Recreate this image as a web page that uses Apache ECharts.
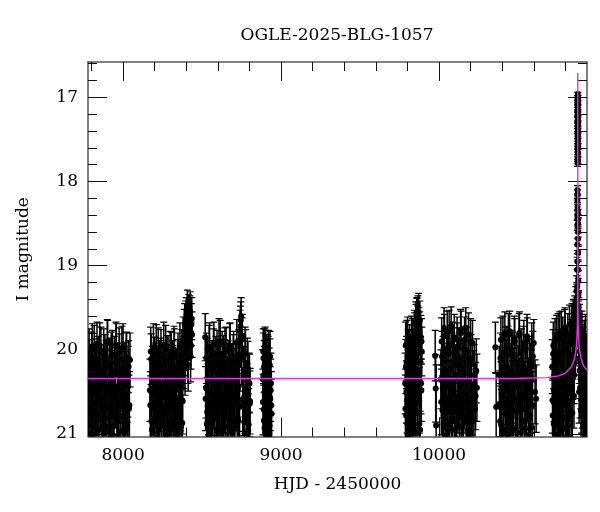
<!DOCTYPE html>
<html>
<head>
<meta charset="utf-8">
<script src="https://cdn.jsdelivr.net/npm/echarts@6.0.0/dist/echarts.min.js"></script>
<style>
html,body{margin:0;padding:0;background:#fff;}
#chart{width:600px;height:512px;}
</style>
</head>
<body>
<div id="chart"></div>
<script>
// ---- axis ranges and ticks ----
const xRange = [7778, 10937];
const yRange = [16.58, 21.03];
const xMajorTicks = [8000, 9000, 10000];
const xMinorTicks = [7800, 8200, 8400, 8600, 8800, 9200, 9400, 9600, 9800, 10200, 10400, 10600, 10800];
const yMajorTicks = [17, 18, 19, 20, 21];
const yMinorTicks = [16.6, 16.8, 17.2, 17.4, 17.6, 17.8, 18.2, 18.4, 18.6, 18.8, 19.2, 19.4, 19.6, 19.8, 20.2, 20.4, 20.6, 20.8];

// ---- photometry: [HJD-2450000, I mag, error] ----
const season2017 = [
[7780,20.42,.36],[7785,20.05,.30],[7790,20.88,.42],[7795,20.31,.34],[7800,20.66,.40],[7805,19.96,.27],
[7810,20.52,.38],[7815,21.06,.45],[7820,20.18,.31],[7825,20.75,.41],[7830,20.36,.35],[7835,19.93,.26],
[7840,20.61,.39],[7845,20.95,.43],[7850,20.27,.33],[7855,20.48,.37],[7860,20.01,.28],[7865,20.83,.42],
[7870,20.39,.35],[7875,21.14,.46],[7880,20.57,.38],[7885,20.12,.30],[7890,20.70,.40],[7895,20.33,.34],
[7900,19.90,.26],[7905,20.46,.36],[7910,20.91,.43],[7915,20.22,.32],[7920,20.64,.39],[7925,20.08,.29],
[7930,20.79,.41],[7935,20.41,.36],[7940,21.02,.45],[7945,20.15,.31],[7950,20.55,.38],[7955,19.94,.27],
[7960,20.86,.42],[7965,20.29,.33],[7970,20.68,.40],[7975,20.03,.29],[7980,20.50,.37],[7985,20.97,.44],
[7990,20.24,.32],[7995,20.60,.39],[8000,19.97,.28],[8005,20.81,.42],[8010,20.37,.35],[8015,20.72,.40],
[8020,20.10,.30],[8025,20.93,.43],[8030,20.44,.36],[8035,20.20,.31],[8040,20.66,.40],[8044,20.12,.32],
[7782.5,20.71,.40],[7787.5,20.19,.31],[7792.5,20.54,.38],[7797.5,21.00,.44],[7802.5,20.08,.29],[7807.5,20.85,.42],
[7812.5,20.40,.36],[7817.5,19.99,.28],[7822.5,20.63,.39],[7827.5,20.26,.33],[7832.5,20.93,.43],[7837.5,20.47,.37],
[7842.5,20.14,.30],[7847.5,20.77,.41],[7852.5,19.95,.27],[7857.5,20.58,.38],[7862.5,21.09,.46],[7867.5,20.32,.34],
[7872.5,20.69,.40],[7877.5,20.04,.29],[7882.5,20.89,.42],[7887.5,20.43,.36],[7892.5,20.21,.32],[7897.5,20.81,.41],
[7902.5,19.92,.27],[7907.5,20.53,.38],[7912.5,20.98,.44],[7917.5,20.17,.31],[7922.5,20.74,.40],[7927.5,20.36,.35],
[7932.5,20.06,.29],[7937.5,20.62,.39],[7942.5,20.90,.43],[7947.5,20.28,.33],[7952.5,20.51,.37],[7957.5,19.97,.28],
[7962.5,20.84,.42],[7967.5,20.45,.36],[7972.5,21.04,.45],[7977.5,20.11,.30],[7982.5,20.67,.40],[7987.5,20.34,.34],
[7992.5,20.00,.28],[7997.5,20.79,.41],[8002.5,20.49,.37],[8007.5,20.96,.44],[8012.5,20.23,.32],[8017.5,20.57,.38],
[8022.5,20.09,.30],[8027.5,20.86,.42],[8032.5,20.30,.34],[8037.5,20.70,.40]
];
const season2018 = [
[8170,20.48,.37],[8175,20.02,.29],[8180,20.85,.42],[8185,20.30,.34],[8190,20.63,.39],[8195,21.08,.45],
[8200,20.16,.31],[8205,20.54,.38],[8210,19.98,.28],[8215,20.77,.41],[8220,20.38,.35],[8225,20.92,.43],
[8230,20.21,.32],[8235,20.59,.38],[8240,20.05,.29],[8245,20.81,.42],[8250,20.43,.36],[8255,21.10,.46],
[8260,20.26,.33],[8265,20.67,.40],[8270,19.99,.28],[8275,20.50,.37],[8280,20.88,.42],[8285,20.14,.31],
[8290,20.71,.40],[8295,20.35,.35],[8300,20.96,.44],[8305,20.09,.30],[8310,20.56,.38],[8315,20.28,.33],
[8320,20.84,.42],[8325,20.04,.29],[8330,20.62,.39],[8335,20.41,.36],[8340,21.03,.45],[8345,20.19,.31],
[8350,20.74,.41],[8355,20.33,.34],[8360,19.96,.28],[8365,20.58,.38],[8370,20.25,.33],[8375,20.87,.42],
[8380,19.88,.27],[8385,20.15,.31],[8390,19.70,.25],[8395,20.02,.29],[8400,19.62,.24],[8405,19.85,.27],
[8410,20.10,.30],[8415,19.58,.24],[8420,19.78,.26],[8425,19.55,.24],[8430,19.95,.28],[8435,19.63,.25],
[8437,19.82,.27],
[8172.5,20.66,.40],[8177.5,20.11,.30],[8182.5,20.95,.44],[8187.5,20.37,.35],[8192.5,19.97,.28],[8197.5,20.52,.37],
[8202.5,20.82,.42],[8207.5,20.24,.32],[8212.5,20.60,.39],[8217.5,21.05,.45],[8222.5,20.03,.29],[8227.5,20.45,.36],
[8232.5,20.78,.41],[8237.5,20.17,.31],[8242.5,20.89,.43],[8247.5,20.31,.34],[8252.5,20.55,.38],[8257.5,19.94,.27],
[8262.5,20.72,.40],[8267.5,20.42,.36],[8272.5,21.01,.45],[8277.5,20.13,.30],[8282.5,20.64,.39],[8287.5,20.27,.33],
[8292.5,20.86,.42],[8297.5,20.07,.29],[8302.5,20.49,.37],[8307.5,20.93,.43],[8312.5,20.20,.31],[8317.5,20.69,.40],
[8322.5,20.00,.28],[8327.5,20.57,.38],[8332.5,20.80,.41],[8337.5,20.34,.35],[8342.5,20.98,.44],[8347.5,20.10,.30],
[8352.5,20.46,.36],[8357.5,20.75,.41],[8362.5,20.22,.32],[8367.5,20.91,.43],[8372.5,20.05,.29],[8377.5,20.61,.39],
[8382.5,20.05,.29],[8387.5,19.78,.26],[8392.5,20.22,.32],[8397.5,19.66,.24],[8402.5,19.92,.27],[8407.5,19.52,.23],
[8412.5,20.18,.31],[8417.5,19.74,.25],[8422.5,19.60,.24],[8427.5,20.08,.30],[8432.5,19.70,.25]
];
const season2019 = [
[8520,19.85,.28],[8525,20.45,.36],[8530,20.88,.43],[8535,20.17,.31],[8540,20.62,.39],[8545,20.00,.29],
[8550,20.76,.41],[8555,20.34,.35],[8560,21.07,.45],[8565,20.23,.32],[8570,20.55,.38],[8575,19.94,.27],
[8580,20.82,.42],[8585,20.40,.36],[8590,20.68,.40],[8595,20.06,.29],[8600,20.97,.44],[8605,20.29,.33],
[8610,20.51,.37],[8615,19.92,.27],[8620,20.73,.41],[8625,20.37,.35],[8630,20.90,.43],[8635,20.13,.30],
[8640,20.60,.39],[8645,20.03,.29],[8650,20.79,.41],[8655,20.44,.36],[8660,21.12,.46],[8665,20.20,.31],
[8670,20.65,.40],[8675,19.97,.28],[8680,20.53,.38],[8685,20.86,.42],[8690,20.26,.33],[8695,20.70,.40],
[8700,20.08,.30],[8705,20.94,.43],[8710,20.32,.34],[8715,20.58,.38],[8720,19.91,.27],[8725,20.47,.37],
[8730,20.84,.42],[8735,20.18,.31],[8740,19.78,.25],[8745,19.65,.22],[8750,20.11,.30],[8755,19.84,.26],
[8760,20.63,.39],[8765,20.30,.34],[8770,20.99,.44],[8775,20.05,.29],[8780,20.52,.37],[8785,20.78,.41],
[8790,20.22,.32],[8795,20.89,.43],[8800,20.40,.35],[8804,20.61,.39],
[8522.5,20.58,.38],[8527.5,20.10,.30],[8532.5,20.74,.41],[8537.5,20.33,.34],[8542.5,21.02,.45],[8547.5,19.96,.28],
[8552.5,20.49,.37],[8557.5,20.87,.42],[8562.5,20.21,.32],[8567.5,20.63,.39],[8572.5,20.04,.29],[8577.5,20.80,.41],
[8582.5,20.42,.36],[8587.5,20.15,.31],[8592.5,20.95,.44],[8597.5,20.28,.33],[8602.5,20.56,.38],[8607.5,19.90,.27],
[8612.5,20.70,.40],[8617.5,20.38,.35],[8622.5,21.08,.46],[8627.5,20.07,.29],[8632.5,20.52,.37],[8637.5,20.84,.42],
[8642.5,20.19,.31],[8647.5,20.66,.40],[8652.5,20.01,.28],[8657.5,20.46,.36],[8662.5,20.91,.43],[8667.5,20.25,.32],
[8672.5,20.61,.39],[8677.5,19.95,.27],[8682.5,20.77,.41],[8687.5,20.35,.35],[8692.5,20.99,.44],[8697.5,20.12,.30],
[8702.5,20.54,.38],[8707.5,20.83,.42],[8712.5,20.26,.33],[8717.5,20.48,.37],[8722.5,20.88,.42],[8727.5,20.44,.36],
[8732.5,20.05,.29],[8737.5,20.68,.40],[8742.5,19.72,.24],[8747.5,19.60,.22],[8752.5,19.88,.26],[8757.5,20.59,.38],
[8762.5,20.31,.34],[8767.5,20.86,.42],[8772.5,20.02,.29],[8777.5,20.50,.37],[8782.5,20.73,.40],[8787.5,20.17,.31],
[8792.5,20.96,.44],[8797.5,20.39,.35],[8802.5,20.64,.39]
];
const season2020 = [
[8884,20.35,.35],[8887,20.02,.27],[8890,20.71,.40],[8893,20.20,.31],[8896,20.93,.43],[8899,19.97,.24],
[8902,20.50,.37],[8905,21.08,.45],[8908,20.12,.30],[8911,20.64,.39],[8914,20.28,.33],[8917,20.86,.42],
[8920,20.05,.28],[8923,20.45,.36],[8926,21.00,.44],[8929,20.18,.31],[8932,20.58,.38],[8936,20.40,.36],
[8940,20.76,.41],
[8885.5,20.62,.39],[8888.5,20.10,.30],[8891.5,20.84,.42],[8894.5,20.30,.34],[8897.5,20.02,.27],[8900.5,20.55,.38],
[8903.5,20.97,.44],[8906.5,20.22,.32],[8909.5,20.70,.40],[8912.5,20.40,.36],[8915.5,21.04,.45],[8918.5,20.15,.31],
[8921.5,20.78,.41],[8924.5,20.33,.35],[8927.5,20.90,.43],[8930.5,20.08,.30],[8934.5,20.48,.37],[8938.5,20.66,.40]
];
const season2022 = [
[9786,20.40,.36],[9789,19.95,.28],[9792,20.78,.41],[9795,20.15,.31],[9798,20.60,.39],[9801,19.88,.27],
[9804,21.05,.45],[9807,20.30,.34],[9810,20.52,.37],[9813,19.98,.28],[9816,20.85,.42],[9819,20.22,.32],
[9822,20.66,.40],[9825,20.06,.29],[9828,20.45,.36],[9831,20.95,.44],[9834,19.90,.27],[9837,20.35,.35],
[9840,20.72,.41],[9843,20.10,.30],[9846,19.82,.26],[9849,20.55,.38],[9852,20.98,.44],[9855,19.70,.24],
[9858,20.25,.33],[9861,19.62,.23],[9864,20.62,.39],[9867,19.58,.22],[9870,20.14,.30],[9873,19.75,.25],
[9876,20.88,.42],[9879,19.65,.23],[9882,20.38,.35],[9885,19.85,.26],[9888,20.48,.37],[9891,20.02,.29],
[9787.5,20.70,.40],[9790.5,20.20,.32],[9793.5,20.50,.37],[9796.5,19.92,.27],[9799.5,20.88,.42],[9802.5,20.35,.35],
[9805.5,20.05,.29],[9808.5,20.64,.39],[9811.5,21.00,.44],[9814.5,20.25,.33],[9817.5,20.80,.41],[9820.5,20.12,.30],
[9823.5,20.45,.36],[9826.5,19.86,.26],[9829.5,20.58,.38],[9832.5,20.92,.43],[9835.5,20.18,.31],[9838.5,20.68,.40],
[9841.5,20.30,.34],[9844.5,19.78,.25],[9847.5,20.52,.37],[9850.5,20.08,.30],[9853.5,19.66,.23],[9856.5,20.42,.36],
[9859.5,19.60,.22],[9862.5,20.75,.41],[9865.5,19.72,.24],[9868.5,20.28,.33],[9871.5,19.55,.22],[9874.5,20.60,.39],
[9877.5,19.80,.25],[9880.5,20.95,.44],[9883.5,20.15,.31],[9886.5,20.40,.36],[9889.5,19.90,.27]
];
const season2023 = [
[9976,20.07,.30],[9979,20.46,.40],[9982,20.90,.72],
[10012,20.35,.35],[10017,19.90,.28],[10022,20.72,.41],[10027,20.15,.31],[10032,19.74,.24],[10037,20.58,.38],
[10042,21.02,.45],[10047,20.25,.33],[10052,19.80,.26],[10057,20.64,.39],[10062,20.05,.29],[10067,20.88,.42],
[10072,20.40,.36],[10077,19.72,.23],[10082,20.50,.37],[10087,20.95,.44],[10092,20.18,.31],[10097,19.85,.27],
[10102,20.68,.40],[10107,20.30,.34],[10112,21.08,.46],[10117,19.96,.28],[10122,20.55,.38],[10127,20.10,.30],
[10132,20.80,.41],[10137,19.76,.24],[10142,20.44,.36],[10147,20.92,.43],[10152,20.22,.32],[10157,20.60,.39],
[10162,19.88,.27],[10167,20.36,.35],[10172,20.84,.42],[10177,20.02,.29],[10182,20.70,.40],[10187,19.82,.26],
[10192,20.48,.37],[10197,21.00,.45],[10202,20.12,.30],[10207,20.62,.39],[10212,19.92,.27],[10220,20.41,.40],
[10228,20.70,.42],[10236,20.25,.38],
[10014.5,20.62,.39],[10019.5,20.08,.30],[10024.5,20.45,.36],[10029.5,20.88,.42],[10034.5,19.84,.26],[10039.5,20.30,.34],
[10044.5,20.70,.40],[10049.5,20.14,.31],[10054.5,20.98,.44],[10059.5,20.40,.36],[10064.5,19.78,.25],[10069.5,20.56,.38],
[10074.5,20.22,.32],[10079.5,20.82,.41],[10084.5,19.95,.28],[10089.5,20.50,.37],[10094.5,20.03,.29],[10099.5,20.74,.40],
[10104.5,20.34,.35],[10109.5,21.05,.45],[10114.5,19.88,.27],[10119.5,20.60,.39],[10124.5,20.18,.31],[10129.5,20.92,.43],
[10134.5,20.42,.36],[10139.5,19.80,.26],[10144.5,20.66,.40],[10149.5,20.26,.33],[10154.5,20.86,.42],[10159.5,20.00,.28],
[10164.5,20.52,.37],[10169.5,19.74,.24],[10174.5,20.78,.41],[10179.5,20.38,.35],[10184.5,20.96,.44],[10189.5,20.10,.30],
[10194.5,20.58,.38],[10199.5,19.90,.27],[10204.5,20.46,.36],[10209.5,20.84,.42],
[10216,20.85,.42],[10224,20.30,.36],[10232,20.55,.40],[10240,20.45,.40]
];
const season2024 = [
[10357,19.97,.30],[10362,20.68,.40],
[10382,20.30,.34],[10387,20.85,.42],[10392,19.88,.26],[10397,20.52,.37],[10402,20.12,.30],[10407,20.95,.44],
[10412,20.40,.36],[10417,19.80,.25],[10422,20.66,.40],[10427,20.20,.32],[10432,21.05,.45],[10437,20.00,.28],
[10442,20.58,.38],[10447,19.78,.24],[10452,20.80,.41],[10457,20.34,.35],[10462,20.92,.43],[10467,20.08,.29],
[10472,20.62,.39],[10477,19.86,.26],[10482,20.45,.36],[10487,21.10,.46],[10492,20.16,.31],[10497,20.74,.40],
[10502,20.28,.33],[10507,19.82,.25],[10512,20.55,.38],[10517,20.98,.44],[10522,20.04,.29],[10527,20.70,.40],
[10532,20.38,.35],[10537,19.92,.27],[10542,20.86,.42],[10547,20.24,.32],[10552,20.60,.39],[10557,19.84,.26],
[10562,20.47,.37],[10567,21.02,.45],[10572,20.14,.30],[10577,20.78,.41],[10582,20.32,.34],[10587,19.95,.27],
[10592,20.66,.40],[10600,19.92,.28],[10608,20.50,.38],[10615,20.58,.40],
[10384.5,20.64,.39],[10389.5,20.10,.30],[10394.5,20.90,.43],[10399.5,20.36,.35],[10404.5,19.86,.26],[10409.5,20.55,.38],
[10414.5,20.20,.32],[10419.5,20.76,.41],[10424.5,20.02,.29],[10429.5,21.00,.45],[10434.5,20.44,.36],[10439.5,19.82,.25],
[10444.5,20.68,.40],[10449.5,20.26,.33],[10454.5,20.88,.42],[10459.5,20.06,.29],[10464.5,20.50,.37],[10469.5,20.96,.44],
[10474.5,20.32,.34],[10479.5,19.90,.27],[10484.5,20.72,.40],[10489.5,20.16,.31],[10494.5,20.58,.38],[10499.5,21.06,.45],
[10504.5,20.40,.36],[10509.5,19.80,.25],[10514.5,20.62,.39],[10519.5,20.12,.30],[10524.5,20.84,.42],[10529.5,20.28,.33],
[10534.5,20.00,.28],[10539.5,20.53,.38],[10544.5,20.94,.43],[10549.5,20.22,.32],[10554.5,20.70,.40],[10559.5,19.88,.26],
[10564.5,20.46,.36],[10569.5,20.82,.42],[10574.5,20.18,.31],[10579.5,20.60,.39],[10584.5,20.35,.35],[10589.5,20.92,.43],
[10594.5,20.08,.30]
];
const season2025 = [
[10717,20.20,.32],[10720,20.78,.42],[10724,19.95,.28],[10728,20.48,.37],[10732,21.00,.45],[10736,20.10,.30],
[10740,20.62,.40],[10744,19.85,.26],[10748,20.35,.35],[10752,20.90,.43],[10756,20.05,.29],[10760,20.70,.40],
[10764,19.80,.25],[10768,20.42,.36],[10772,20.96,.44],[10776,20.15,.31],[10780,20.56,.38],[10784,19.88,.27],
[10788,20.82,.42],[10792,20.28,.33],[10796,19.76,.24],[10800,20.64,.39],[10804,20.00,.28],[10808,20.92,.43],
[10812,20.38,.35],[10816,19.82,.25],[10820,20.52,.37],[10824,20.12,.30],[10828,21.04,.45],[10832,19.90,.26],
[10836,20.45,.36],[10840,19.72,.24],[10844,20.75,.41],[10848,20.06,.29],[10852,19.65,.23],[10856,20.30,.34],
[10860,19.58,.22],[10863,20.02,.28],[10866,19.45,.20],[10868,19.85,.26],[10870,19.30,.18],[10872,19.60,.22],
[10874,19.05,.15],[10875.0,19.25,.13],[10875.5,18.95,.09],[10875.8,18.75,.07],[10876.2,18.52,.06],
[10876.5,18.15,.05],[10876.6,18.22,.05],[10876.8,18.30,.05],
[10877.6,17.78,.04],[10877.7,17.72,.04],[10877.8,17.62,.03],[10877.9,17.55,.03],[10878.0,17.46,.03],
[10878.05,17.40,.03],[10878.1,17.34,.03],[10878.2,17.27,.03],[10878.25,17.20,.03],[10878.3,17.15,.03],
[10878.4,17.08,.02],[10878.45,17.02,.02],[10878.5,16.96,.02],[10878.6,17.00,.02],[10878.7,17.06,.02],
[10878.8,17.12,.03],[10878.9,17.18,.03],[10879.0,17.25,.03],[10879.1,17.31,.03],[10879.2,17.38,.03],
[10879.3,17.44,.03],[10879.4,17.52,.03],[10879.5,17.58,.03],[10879.6,17.66,.04],[10879.7,17.75,.04],
[10880.3,18.38,.05],[10880.5,18.45,.06],[10880.8,18.60,.06],[10881.0,18.68,.07],[10881.4,18.85,.08],
[10881.8,19.05,.10],[10882.2,19.18,.12],[10882.6,19.35,.15],[10883.0,19.48,.18],[10884,19.62,.20],
[10886,19.75,.22],[10888,20.10,.30],[10890,19.70,.24],[10893,20.45,.36],[10896,19.88,.27],[10899,20.72,.41],
[10902,20.15,.31],[10905,19.80,.26],[10908,20.55,.38],[10911,20.02,.29],[10914,20.90,.43],[10917,20.28,.33],
[10920,19.92,.27],[10923,20.64,.39],[10926,20.08,.30],[10929,20.42,.36],[10932,20.80,.42],[10935,20.18,.31],
[10718.5,20.60,.39],[10722.5,20.05,.29],[10726.5,20.88,.42],[10730.5,20.30,.34],[10734.5,19.90,.27],[10738.5,20.70,.40],
[10742.5,20.18,.31],[10746.5,20.52,.37],[10750.5,21.02,.45],[10754.5,19.82,.25],[10758.5,20.44,.36],[10762.5,20.84,.42],
[10766.5,20.12,.30],[10770.5,20.66,.40],[10774.5,19.78,.24],[10778.5,20.38,.35],[10782.5,20.94,.43],[10786.5,20.08,.29],
[10790.5,20.58,.38],[10794.5,20.24,.32],[10798.5,19.74,.24],[10802.5,20.80,.41],[10806.5,20.34,.35],[10810.5,20.00,.28],
[10814.5,20.62,.39],[10818.5,20.90,.43],[10822.5,20.16,.31],[10826.5,19.70,.23],[10830.5,20.48,.37],[10834.5,20.06,.29],
[10838.5,20.76,.41],[10842.5,19.68,.23],[10846.5,20.26,.33],[10850.5,19.62,.22],[10854.5,20.55,.38],[10858.5,19.92,.27],
[10867,19.90,.26],[10869,19.52,.21],[10871,19.70,.22],[10873,19.40,.18],[10876,18.40,.06],[10877,18.10,.05],
[10880,18.50,.06],[10882.4,19.50,.18],[10883.5,19.90,.25],[10885,19.58,.20],
[10887,20.50,.37],[10891,20.25,.33],[10894,19.95,.28],[10897,20.35,.35],[10900,20.05,.29],[10903,20.60,.39],
[10906,20.32,.34],[10909,19.98,.28],[10912,20.70,.40],[10915,20.12,.30],[10918,20.50,.37],[10921,20.80,.42],
[10924,20.22,.32],[10927,19.85,.27],[10930,20.62,.39],[10933,20.40,.36],[10936,20.95,.44]
];

// ---- model curve: [HJD-2450000, I mag] ----
const modelCurve = [
[7700,20.34],[10478,20.34],[10678,20.33],[10758,20.31],[10798,20.28],[10818,20.24],[10838,20.20],
[10848,20.16],[10858,20.10],[10866,20.02],[10870,19.94],[10873,19.86],[10875,19.78],[10876,19.72],
[10876.7,19.62],[10877.2,19.50],[10877.6,19.30],[10877.9,19.05],[10878.1,18.70],[10878.25,18.30],
[10878.35,17.90],[10878.42,17.40],[10878.47,17.00],[10878.5,16.71],[10878.53,17.00],[10878.58,17.40],
[10878.65,17.90],[10878.75,18.30],[10878.9,18.70],[10879.1,19.05],[10879.4,19.30],[10879.8,19.50],
[10880.3,19.62],[10881,19.72],[10882,19.78],[10884,19.86],[10887,19.94],[10891,20.02],[10899,20.10],
[10909,20.16],[10919,20.20],[10937,20.24]
];

const seasons = [season2017, season2018, season2019, season2020, season2022, season2023, season2024, season2025];
const photometry = [].concat(...seasons);

const FONT = 'DejaVu Serif';
const chart = echarts.init(document.getElementById('chart'));

function fmt(v){ return String(v); }

function xAx(pos, ticks, len, withLabel, withLine){
  return {
    type:'value', position:pos, min:xRange[0], max:xRange[1],
    axisLine:{show:withLine, onZero:false, lineStyle:{color:'#555', width:1.5}},
    axisTick:{show:true, inside:true, length:len, customValues:ticks, lineStyle:{color:'#111', width:1}},
    axisLabel:{show:withLabel, customValues:ticks, formatter:fmt, margin:11,
      fontFamily:FONT, fontSize:17, color:'#000'},
    splitLine:{show:false}, minorTick:{show:false}
  };
}
function yAx(pos, ticks, len, withLabel, withLine){
  return {
    type:'value', position:pos, min:yRange[0], max:yRange[1], inverse:true,
    axisLine:{show:withLine, onZero:false, lineStyle:{color:'#555', width:1.5}},
    axisTick:{show:true, inside:true, length:len, customValues:ticks, lineStyle:{color:'#111', width:1}},
    axisLabel:{show:withLabel, customValues:ticks, formatter:fmt, margin:10,
      fontFamily:FONT, fontSize:17, color:'#000'},
    splitLine:{show:false}, minorTick:{show:false}
  };
}

const xAxes = [
  xAx('bottom', xMajorTicks, 19, true, true),
  xAx('bottom', xMinorTicks, 9, false, false),
  xAx('top', xMajorTicks, 19, false, true),
  xAx('top', xMinorTicks, 9, false, false)
];
Object.assign(xAxes[0], {name:'HJD - 2450000', nameLocation:'middle', nameGap:40,
  nameTextStyle:{fontFamily:FONT, fontSize:17, color:'#000'}});
const yAxes = [
  yAx('left', yMajorTicks, 19, true, true),
  yAx('left', yMinorTicks, 9, false, false),
  yAx('right', yMajorTicks, 19, false, true),
  yAx('right', yMinorTicks, 9, false, false)
];
Object.assign(yAxes[0], {name:'I magnitude', nameLocation:'middle', nameGap:56,
  nameTextStyle:{fontFamily:FONT, fontSize:17, color:'#000'}});

chart.setOption({
  animation:false,
  backgroundColor:'#fff',
  title:{text:'OGLE-2025-BLG-1057', left:332, top:22, textAlign:'center',
    textStyle:{fontFamily:FONT, fontSize:17, fontWeight:'normal', color:'#000'}},
  grid:{left:88, right:13, top:62, bottom:75.5, containLabel:false, outerBoundsMode:'none'},
  xAxis:xAxes,
  yAxis:yAxes,
  series:[
    {
      type:'custom', xAxisIndex:0, yAxisIndex:0, clip:true, z:2,
      data:photometry,
      renderItem:function(params, api){
        const t = api.value(0), m = api.value(1), e = api.value(2);
        const c = api.coord([t, m]);
        const a = api.coord([t, m - e]);
        const b = api.coord([t, m + e]);
        const h = 3.5;
        const st = {stroke:'#000', lineWidth:1.5, fill:null};
        return {type:'group', children:[
          {type:'line', shape:{x1:c[0], y1:a[1], x2:c[0], y2:b[1]}, style:st},
          {type:'line', shape:{x1:c[0]-h, y1:a[1], x2:c[0]+h, y2:a[1]}, style:{stroke:'#000', lineWidth:1.2}},
          {type:'line', shape:{x1:c[0]-h, y1:b[1], x2:c[0]+h, y2:b[1]}, style:{stroke:'#000', lineWidth:1.2}},
          {type:'circle', shape:{cx:c[0], cy:c[1], r:3}, style:{fill:'#000'}}
        ]};
      }
    },
    {
      type:'line', xAxisIndex:0, yAxisIndex:0, data:modelCurve, showSymbol:false, z:5,
      lineStyle:{color:'#ee2cee', width:1.4}, clip:true
    }
  ]
});
</script>
</body>
</html>
